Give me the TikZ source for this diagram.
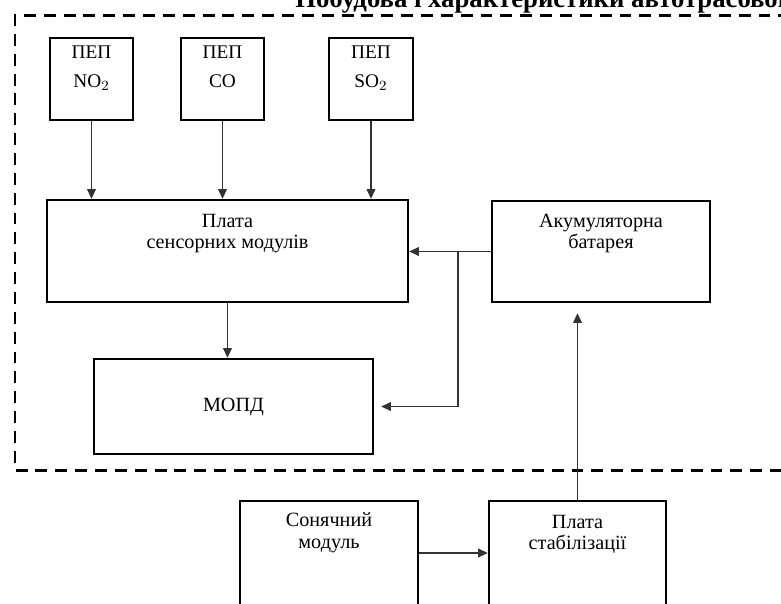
\documentclass[tikz,border=0pt]{standalone}
\usepackage{fontspec}
\setmainfont{Liberation Serif}
\usetikzlibrary{positioning,arrows.meta}

\tikzset{
	blok/.style={draw, line width=1.4pt, inner sep=0pt},
	pepblok/.style={blok, minimum width=1.66cm, minimum height=1.64cm},
	txt/.style={align=center, inner sep=0pt, font=\fontsize{11.5}{12}\selectfont},
	peptxt/.style={align=center, inner sep=0pt, font=\fontsize{11}{16.5}\selectfont},
	strilka/.style={-{Triangle[length=5.5pt,width=5pt]}, line width=0.6pt, black!80},
	mezha/.style={line width=1.7pt, dash pattern=on 6.8pt off 4.5pt}
}

\begin{document}
\begin{tikzpicture}[x=0.02cm, y=-0.02cm]
	\useasboundingbox (0,0) rectangle (781,603);

	% header, cut by the page edge
	\node[anchor=base west, inner sep=0pt, font=\fontsize{15.2}{15.2}\selectfont\bfseries] at (295,7) (zag) {Побудова і характеристики автотрасового};

	% dashed border
	\draw[mezha] (830,15) -- (15,15) -- (15,470) -- (830,470);

	% sensors
	\node[pepblok] at (91.5,79) (pepno) {};
	\node[pepblok] at (222.5,79) (pepco) {};
	\node[pepblok, minimum width=1.68cm] at (371,79) (pepso) {};
	\node[peptxt, below=9*0.02cm of pepno.north] (pepnot) {ПЕП\\NO$_2$};
	\node[peptxt, below=9*0.02cm of pepco.north] (pepcot) {ПЕП\\CO};
	\node[peptxt, below=9*0.02cm of pepso.north] (pepsot) {ПЕП\\SO$_2$};

	\node[blok, minimum width=7.22cm, minimum height=2.04cm] at (227.5,251) (plata) {};
	\node[txt, below=15*0.02cm of plata.north] (platat) {Плата\\сенсорних модулів};

	\node[blok, minimum width=4.36cm, minimum height=2.02cm] at (601,251.5) (akum) {};
	\node[txt, below=14*0.02cm of akum.north] (akumt) {Акумуляторна\\батарея};

	\node[blok, minimum width=5.58cm, minimum height=1.9cm, font=\fontsize{11.5}{12}\selectfont] at (233.5,406.5) (mopd) {МОПД};

	\node[blok, minimum width=3.56cm, minimum height=2.08cm] at (329,553) (sonce) {};
	\node[txt, below=13*0.02cm of sonce.north] (soncet) {Сонячний\\модуль};

	\node[blok, minimum width=3.54cm, minimum height=2.08cm] at (577.5,553) (stab) {};
	\node[txt, below=15*0.02cm of stab.north] (stabt) {Плата\\стабілізації};

	% connections
	\draw[strilka] (pepno.south) -- (pepno.south |- plata.north);
	\draw[strilka] (pepco.south) -- (pepco.south |- plata.north);
	\draw[strilka] (pepso.south) -- (pepso.south |- plata.north);
	\draw[strilka] (akum.west) -- (akum.west -| plata.east);
	\coordinate (vuzol) at (458,251.5);
	\draw[strilka, shorten >=7*0.02cm] (vuzol) |- (mopd.east);
	\draw[strilka] (plata.south) -- (plata.south |- mopd.north);
	\draw[strilka] (sonce.east) -- (stab.west);
	\draw[strilka, shorten >=10*0.02cm] (stab.north) -- (stab.north |- akum.south);
\end{tikzpicture}
\end{document}
